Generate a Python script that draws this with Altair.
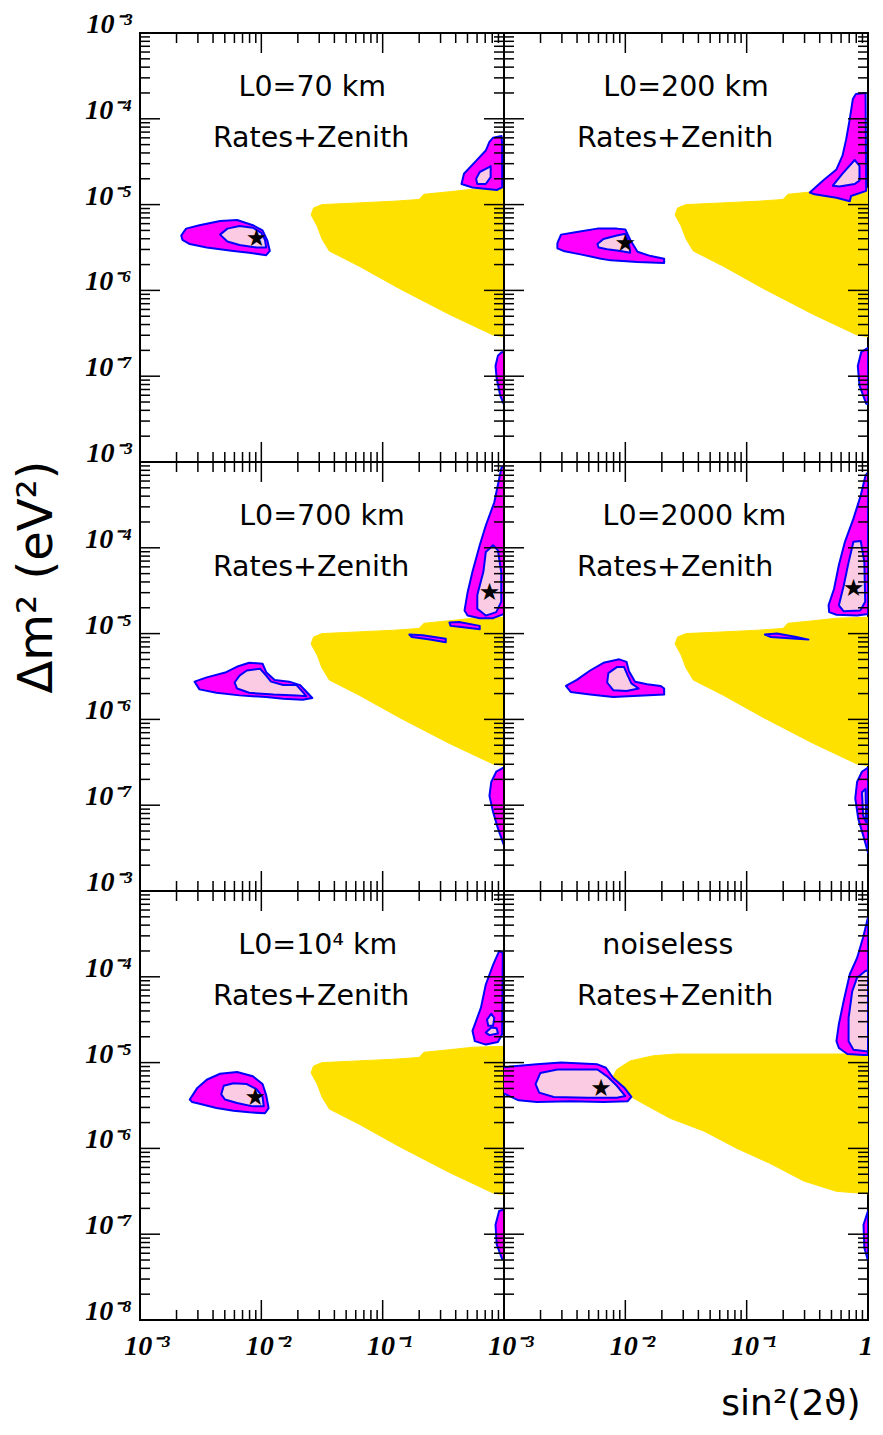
import altair as alt
import pandas as pd

# ---------------------------------------------------------------
# Values, as (log10 sin^2(2θ), log10 Δm^2/eV^2)
# ---------------------------------------------------------------
YELLOW_STD = [(-1.59, -5.12), (-1.57, -5.04), (-1.50, -5.00), (-1.20, -4.98), (-0.90, -4.96),
              (-0.70, -4.94), (-0.66, -4.88), (-0.45, -4.85), (-0.25, -4.82), (0.0, -4.81),
              (0.0, -6.54), (-0.09, -6.52), (-0.45, -6.28), (-0.86, -5.98), (-1.19, -5.72),
              (-1.44, -5.54), (-1.50, -5.40), (-1.54, -5.25)]
YELLOW_NOISELESS = [(-2.10, -5.16), (-2.07, -5.08), (-1.96, -4.98), (-1.77, -4.92), (-1.58, -4.90),
                    (0.0, -4.90), (0.0, -6.53), (-0.26, -6.50), (-0.53, -6.38), (-0.80, -6.18),
                    (-1.08, -6.00), (-1.35, -5.80), (-1.63, -5.65), (-1.85, -5.48), (-1.99, -5.37),
                    (-2.07, -5.25)]

P1_OUT = [(-2.66, -5.36), (-2.62, -5.28), (-2.51, -5.24), (-2.34, -5.19), (-2.20, -5.18), (-2.07, -5.24),
          (-1.99, -5.30), (-1.95, -5.42), (-1.93, -5.54), (-1.96, -5.59), (-2.10, -5.56), (-2.23, -5.54),
          (-2.45, -5.50), (-2.59, -5.46), (-2.65, -5.41)]
P1_IN = [(-2.34, -5.35), (-2.28, -5.28), (-2.18, -5.25), (-2.07, -5.27), (-2.00, -5.33), (-1.97, -5.41),
         (-1.96, -5.50), (-2.04, -5.50), (-2.18, -5.47), (-2.28, -5.43)]
P1_ISL_OUT = [(-0.12, -4.27), (-0.09, -4.22), (-0.02, -4.20), (-0.015, -4.30), (-0.015, -4.80), (-0.06, -4.83),
              (-0.26, -4.80), (-0.35, -4.76), (-0.33, -4.64), (-0.23, -4.49), (-0.15, -4.37)]
P1_ISL_IN = [(-0.23, -4.70), (-0.20, -4.62), (-0.13, -4.57), (-0.11, -4.55), (-0.11, -4.68), (-0.15, -4.76),
             (-0.22, -4.76)]
P1_LOW = [(-0.05, -6.76), (-0.02, -6.72), (0.0, -6.72), (0.0, -7.33), (-0.03, -7.23), (-0.06, -7.03),
          (-0.07, -6.88)]

P2_OUT = [(-2.56, -5.45), (-2.53, -5.35), (-2.40, -5.32), (-2.23, -5.28), (-2.07, -5.28), (-2.00, -5.29),
          (-1.96, -5.41), (-1.90, -5.55), (-1.79, -5.60), (-1.68, -5.63), (-1.68, -5.68), (-1.90, -5.67),
          (-2.12, -5.65), (-2.20, -5.63), (-2.37, -5.58), (-2.51, -5.54), (-2.56, -5.51)]
P2_IN = [(-2.23, -5.46), (-2.18, -5.40), (-2.07, -5.36), (-2.00, -5.34), (-1.97, -5.45), (-1.96, -5.56),
         (-2.04, -5.54), (-2.15, -5.52), (-2.22, -5.50)]
P2_ISL_OUT = [(-0.10, -3.71), (-0.02, -3.70), (-0.015, -4.84), (-0.14, -4.90), (-0.15, -4.96), (-0.26, -4.92),
              (-0.44, -4.88), (-0.48, -4.86), (-0.37, -4.72), (-0.26, -4.59), (-0.21, -4.43), (-0.18, -4.24),
              (-0.15, -4.00), (-0.125, -3.77)]
P2_ISL_IN = [(-0.29, -4.78), (-0.21, -4.64), (-0.11, -4.48), (-0.07, -4.55), (-0.07, -4.72), (-0.11, -4.76),
             (-0.235, -4.79)]
P2_LOW = [(0.0, -6.67), (-0.056, -6.72), (-0.084, -6.88), (-0.07, -7.11), (-0.015, -7.32), (0.0, -7.32)]

P3_OUT = [(-2.55, -5.56), (-2.45, -5.51), (-2.29, -5.45), (-2.19, -5.38), (-2.10, -5.34), (-1.99, -5.35),
          (-1.96, -5.45), (-1.89, -5.54), (-1.77, -5.56), (-1.68, -5.60), (-1.64, -5.66), (-1.58, -5.75),
          (-1.66, -5.77), (-1.82, -5.76), (-1.96, -5.74), (-2.18, -5.72), (-2.37, -5.69), (-2.51, -5.65)]
P3_IN = [(-2.22, -5.57), (-2.18, -5.49), (-2.12, -5.43), (-2.01, -5.41), (-1.96, -5.49), (-1.92, -5.56),
         (-1.82, -5.60), (-1.71, -5.60), (-1.66, -5.68), (-1.63, -5.73), (-1.71, -5.72), (-1.90, -5.71),
         (-2.10, -5.69), (-2.20, -5.64)]
P3_ISL_OUT = [(-0.02, -3.06), (0.0, -3.06), (0.0, -4.77), (-0.09, -4.82), (-0.20, -4.82), (-0.30, -4.79),
              (-0.325, -4.73), (-0.30, -4.52), (-0.26, -4.28), (-0.20, -3.97), (-0.15, -3.74), (-0.08, -3.47)]
P3_ISL_IN = [(-0.15, -4.05), (-0.09, -3.97), (-0.05, -4.03), (-0.023, -4.28), (-0.023, -4.63), (-0.064, -4.75),
             (-0.15, -4.79), (-0.22, -4.71), (-0.22, -4.55), (-0.17, -4.28)]
P3_SLIV1 = [(-0.45, -4.87), (-0.37, -4.865), (-0.20, -4.91), (-0.20, -4.95), (-0.37, -4.92), (-0.44, -4.91)]
P3_SLIV2 = [(-0.78, -5.01), (-0.67, -5.02), (-0.48, -5.06), (-0.48, -5.10), (-0.61, -5.07), (-0.76, -5.04)]
P3_LOW = [(0.0, -6.56), (-0.064, -6.61), (-0.105, -6.73), (-0.12, -6.89), (-0.09, -7.08), (-0.05, -7.27),
          (0.0, -7.47)]

P4_OUT = [(-2.49, -5.61), (-2.40, -5.54), (-2.29, -5.43), (-2.18, -5.34), (-2.05, -5.30), (-1.99, -5.33),
          (-1.97, -5.44), (-1.92, -5.56), (-1.82, -5.59), (-1.71, -5.61), (-1.68, -5.64), (-1.68, -5.71),
          (-1.85, -5.72), (-2.10, -5.74), (-2.29, -5.71), (-2.45, -5.68)]
P4_IN = [(-2.15, -5.57), (-2.14, -5.46), (-2.07, -5.39), (-2.01, -5.39), (-1.98, -5.49), (-1.95, -5.58),
         (-1.89, -5.64), (-1.99, -5.67), (-2.10, -5.66)]
P4_ISL_OUT = [(-0.02, -3.155), (0.0, -3.12), (0.0, -4.77), (-0.09, -4.79), (-0.26, -4.78), (-0.32, -4.75),
              (-0.325, -4.67), (-0.28, -4.48), (-0.24, -4.20), (-0.19, -3.93), (-0.12, -3.66), (-0.06, -3.39)]
P4_ISL_IN = [(-0.12, -3.93), (-0.06, -3.92), (-0.03, -4.17), (-0.023, -4.63), (-0.064, -4.73), (-0.20, -4.74),
             (-0.24, -4.67), (-0.20, -4.44), (-0.16, -4.17)]
P4_SLIV = [(-0.85, -5.01), (-0.75, -5.00), (-0.59, -5.04), (-0.49, -5.07), (-0.59, -5.06), (-0.80, -5.04)]
P4_LOW = [(0.0, -6.56), (-0.05, -6.61), (-0.09, -6.73), (-0.105, -6.92), (-0.08, -7.16), (-0.04, -7.35),
          (0.0, -7.55)]
P4_LOW_IN = [(-0.05, -6.85), (-0.02, -6.81), (-0.015, -7.20), (-0.04, -7.12)]

P5_OUT = [(-2.59, -5.43), (-2.53, -5.30), (-2.45, -5.20), (-2.34, -5.13), (-2.20, -5.11), (-2.07, -5.16),
          (-1.99, -5.25), (-1.96, -5.38), (-1.94, -5.53), (-1.97, -5.59), (-2.10, -5.58), (-2.23, -5.56),
          (-2.37, -5.53), (-2.51, -5.48), (-2.57, -5.46)]
P5_IN = [(-2.33, -5.37), (-2.31, -5.27), (-2.23, -5.24), (-2.12, -5.25), (-2.04, -5.31), (-1.99, -5.40),
         (-1.98, -5.51), (-2.07, -5.51), (-2.20, -5.47), (-2.30, -5.43)]
P5_ISL_OUT = [(-0.04, -3.70), (-0.01, -3.72), (-0.015, -4.67), (-0.05, -4.76), (-0.15, -4.79), (-0.24, -4.75),
              (-0.26, -4.63), (-0.19, -4.36), (-0.15, -4.09), (-0.09, -3.86)]
P5_ISL_IN1 = [(-0.14, -4.50), (-0.105, -4.43), (-0.08, -4.48), (-0.09, -4.57), (-0.13, -4.57)]
P5_ISL_IN2 = [(-0.15, -4.65), (-0.105, -4.59), (-0.06, -4.60), (-0.05, -4.66), (-0.12, -4.68)]
P5_LOW = [(0.0, -6.71), (-0.04, -6.73), (-0.07, -6.89), (-0.06, -7.12), (-0.015, -7.29), (0.0, -7.29)]

P6_OUT = [(-3.05, -5.06), (-2.73, -5.02), (-2.53, -5.00), (-2.23, -5.02), (-2.16, -5.06), (-2.10, -5.18),
          (-2.01, -5.29), (-1.95, -5.40), (-1.98, -5.45), (-2.18, -5.46), (-2.45, -5.45), (-2.73, -5.46),
          (-2.88, -5.44), (-3.05, -5.33)]
P6_IN = [(-2.74, -5.25), (-2.70, -5.12), (-2.56, -5.08), (-2.23, -5.08), (-2.15, -5.16), (-2.07, -5.27),
         (-2.00, -5.39), (-2.07, -5.41), (-2.31, -5.41), (-2.59, -5.40), (-2.71, -5.35)]
P6_ISL_OUT = [(0.0, -3.31), (-0.04, -3.54), (-0.09, -3.78), (-0.15, -3.97), (-0.20, -4.28), (-0.24, -4.55),
              (-0.26, -4.75), (-0.24, -4.83), (-0.17, -4.90), (-0.04, -4.91), (0.0, -4.91)]
P6_ISL_IN = [(-0.09, -4.01), (-0.02, -3.93), (0.0, -3.93), (0.0, -4.87), (-0.12, -4.85), (-0.16, -4.75),
             (-0.16, -4.48), (-0.13, -4.17)]
P6_LOW = [(0.0, -6.73), (-0.037, -6.89), (-0.03, -7.16), (0.0, -7.31)]

STARS = [(-2.04, -5.40), (-2.00, -5.46), (-0.12, -4.53), (-0.12, -4.48), (-2.05, -5.41), (-2.20, -5.31)]

LINE1 = ["L0=70 km", "L0=200 km", "L0=700 km", "L0=2000 km", "L0=10\u2074 km", "noiseless"]
LINE1_X = [-1.58, -1.50, -1.50, -1.43, -1.535, -1.65]
LINE2 = "Rates+Zenith"
LINE2_X = -1.59
LINE1_Y = -3.734
LINE2_Y = -4.329

X_MAJOR = [1e-3, 1e-2, 1e-1, 1.0]
X_MINOR = [k * 10.0 ** e for e in (-3, -2, -1) for k in range(2, 10)]
Y_MAJOR = [1e-8, 1e-7, 1e-6, 1e-5, 1e-4, 1e-3]
Y_MINOR = [k * 10.0 ** e for e in (-8, -7, -6, -5, -4) for k in range(2, 10)]

Y_LABEL_VALUES = [1e-3, 1e-4, 1e-5, 1e-6, 1e-7, 1e-8]
Y_LABEL_TEXT = ["10\u207b\u00b3", "10\u207b\u2074", "10\u207b\u2075", "10\u207b\u2076",
                "10\u207b\u2077", "10\u207b\u2078"]
X_LABEL_VALUES = [1e-3, 1e-2, 1e-1]
X_LABEL_TEXT = ["10\u207b\u00b3", "10\u207b\u00b2", "10\u207b\u00b9"]
X_END_VALUE = [1.0]
X_END_TEXT = ["1"]
Y_TITLE = "\u0394m\u00b2 (eV\u00b2)"
X_TITLE = "sin\u00b2(2\u03d1)"

# ---------------------------------------------------------------
W, H = 364, 429
MAJ, MIN = 20, 10
XS = alt.Scale(type="log", domain=[1e-3, 1.0], nice=False)
YS = alt.Scale(type="log", domain=[1e-8, 1e-3], nice=False)

YELLOW_C = "#ffe100"
MAGENTA_C = "#ff00ff"
PINK_C = "#fbcbe3"
BLUE_C = "#0000ff"
LABEL_FONT = dict(font="Liberation Serif", fontStyle="italic", fontWeight="bold", fontSize=28, color="black")


def polys_df(polys):
    rows = []
    for k, pts in enumerate(polys):
        for i, (lx, ly) in enumerate(pts):
            rows.append({"s": k, "i": i, "x": 10 ** lx, "y": 10 ** ly})
    return pd.DataFrame(rows)


def poly_layer(polys, fill, stroke, sw):
    return alt.Chart(polys_df(polys)).mark_line(
        fill=fill, stroke=stroke, strokeWidth=sw, interpolate="linear-closed",
        clip=True, strokeJoin="round"
    ).encode(
        x=alt.X("x:Q", scale=XS, axis=None),
        y=alt.Y("y:Q", scale=YS, axis=None),
        detail="s:N",
        order="i:Q",
    )


def text_layer(k):
    df = pd.DataFrame({
        "x": [10 ** LINE1_X[k], 10 ** LINE2_X],
        "y": [10 ** LINE1_Y, 10 ** LINE2_Y],
        "t": [LINE1[k], LINE2],
    })
    return alt.Chart(df).mark_text(
        font="DejaVu Sans", fontSize=28.5, align="center", baseline="alphabetic", color="black"
    ).encode(
        x=alt.X("x:Q", scale=XS, axis=None),
        y=alt.Y("y:Q", scale=YS, axis=None),
        text="t:N",
    )


def star_layer(k):
    df = pd.DataFrame({"x": [10 ** STARS[k][0]], "y": [10 ** STARS[k][1]]})
    return alt.Chart(df).mark_text(
        text="\u2605", font="DejaVu Sans", fontSize=24, align="center", baseline="middle", color="black"
    ).encode(
        x=alt.X("x:Q", scale=XS, axis=None),
        y=alt.Y("y:Q", scale=YS, axis=None),
    )


def tick_layers():
    out = []
    rule = dict(color="black", strokeWidth=1.5)
    for vals, L in ((X_MAJOR, MAJ), (X_MINOR, MIN)):
        df = pd.DataFrame({"v": vals})
        out.append(alt.Chart(df).mark_rule(**rule).encode(
            x=alt.X("v:Q", scale=XS, axis=None), y=alt.value(H), y2=alt.value(H - L)))
        out.append(alt.Chart(df).mark_rule(**rule).encode(
            x=alt.X("v:Q", scale=XS, axis=None), y=alt.value(0), y2=alt.value(L)))
    for vals, L in ((Y_MAJOR, MAJ), (Y_MINOR, MIN)):
        df = pd.DataFrame({"v": vals})
        out.append(alt.Chart(df).mark_rule(**rule).encode(
            y=alt.Y("v:Q", scale=YS, axis=None), x=alt.value(0), x2=alt.value(L)))
        out.append(alt.Chart(df).mark_rule(**rule).encode(
            y=alt.Y("v:Q", scale=YS, axis=None), x=alt.value(W), x2=alt.value(W - L)))
    return out


def y_labels(n):
    df = pd.DataFrame({"v": Y_LABEL_VALUES[:n], "t": Y_LABEL_TEXT[:n]})
    return alt.Chart(df).mark_text(align="right", baseline="alphabetic", **LABEL_FONT).encode(
        y=alt.Y("v:Q", scale=YS, axis=None), x=alt.value(-8), text="t:N")


def x_labels(values, texts, dx):
    df = pd.DataFrame({"v": values, "t": texts})
    return alt.Chart(df).mark_text(align="center", baseline="top", dx=dx, **LABEL_FONT).encode(
        x=alt.X("v:Q", scale=XS, axis=None), y=alt.value(H + 13), text="t:N")


def y_title():
    df = pd.DataFrame({"t": [Y_TITLE]})
    return alt.Chart(df).mark_text(
        font="DejaVu Sans", fontSize=48, angle=270, align="center", baseline="middle", color="black"
    ).encode(x=alt.value(-102), y=alt.value(115), text="t:N")


def x_title():
    df = pd.DataFrame({"t": [X_TITLE]})
    return alt.Chart(df).mark_text(
        font="DejaVu Sans", fontSize=36, align="center", baseline="middle", color="black"
    ).encode(x=alt.value(287), y=alt.value(H + 84), text="t:N")


PANEL_SHAPES = [
    (YELLOW_STD, [P1_OUT, P1_ISL_OUT, P1_LOW], [P1_IN, P1_ISL_IN]),
    (YELLOW_STD, [P2_OUT, P2_ISL_OUT, P2_LOW], [P2_IN, P2_ISL_IN]),
    (YELLOW_STD, [P3_OUT, P3_ISL_OUT, P3_SLIV1, P3_SLIV2, P3_LOW], [P3_IN, P3_ISL_IN]),
    (YELLOW_STD, [P4_OUT, P4_ISL_OUT, P4_SLIV, P4_LOW], [P4_IN, P4_ISL_IN, P4_LOW_IN]),
    (YELLOW_STD, [P5_OUT, P5_ISL_OUT, P5_LOW], [P5_IN, P5_ISL_IN1, P5_ISL_IN2]),
    (YELLOW_NOISELESS, [P6_OUT, P6_ISL_OUT, P6_LOW], [P6_IN, P6_ISL_IN]),
]


def panel(k):
    yellow, outer, inner = PANEL_SHAPES[k]
    left = (k % 2 == 0)
    bottom = (k >= 4)
    layers = [
        poly_layer([yellow], YELLOW_C, YELLOW_C, 1),
        poly_layer(outer, MAGENTA_C, BLUE_C, 2),
        poly_layer(inner, PINK_C, BLUE_C, 2),
        text_layer(k),
        star_layer(k),
    ] + tick_layers()
    if left:
        layers.append(y_labels(6 if bottom else 5))
    if bottom:
        layers.append(x_labels(X_LABEL_VALUES, X_LABEL_TEXT, 7))
        if not left:
            layers.append(x_labels(X_END_VALUE, X_END_TEXT, -2))
    if k == 2:
        layers.append(y_title())
    if k == 5:
        layers.append(x_title())
    return alt.layer(*layers).properties(width=W, height=H)


chart = alt.concat(
    *[panel(k) for k in range(6)], columns=2, spacing=0, bounds="flush"
).properties(
    padding={"left": 5, "top": 2, "right": 0, "bottom": 2}
).configure_view(stroke="black", strokeWidth=2)

chart.save("out.html", embed_options={"renderer": "svg", "actions": False})
